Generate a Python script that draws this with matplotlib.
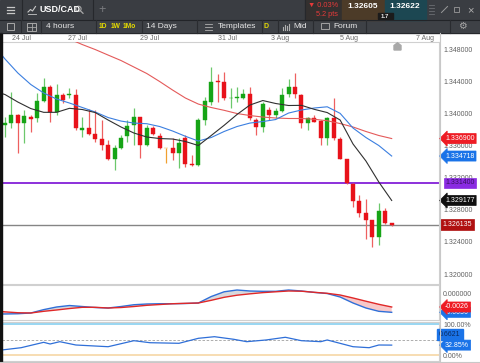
import numpy as np
import matplotlib
matplotlib.use("Agg")
import matplotlib.pyplot as plt
import matplotlib.transforms as mtransforms
from matplotlib.patches import Rectangle, Polygon, Circle

plt.rcParams['font.family'] = ['Liberation Sans', 'DejaVu Sans']

# USD/CAD 4 hour candles
opens = [1.33855, 1.33880, 1.33983, 1.33880, 1.33962, 1.33942, 1.34162, 1.34336, 1.34024, 1.34233,
         1.34239, 1.34233, 1.33796, 1.33817, 1.33746, 1.33680, 1.33609, 1.33431, 1.33568, 1.33721,
         1.33855, 1.33955, 1.33609, 1.33817, 1.33725, 1.33568, 1.33568, 1.33513, 1.33693, 1.33378,
         1.33360, 1.33921, 1.34149, 1.34407, 1.34398, 1.34195, 1.34195, 1.34199, 1.34245, 1.33921,
         1.33837, 1.34046, 1.33983, 1.34033, 1.34241, 1.34336, 1.34233, 1.33880, 1.33952, 1.33908,
         1.33693, 1.33952, 1.33690, 1.33435, 1.33123, 1.32905, 1.32765, 1.32668, 1.32462, 1.32790,
         1.32640]
highs = [1.33958, 1.34270, 1.33990, 1.34046, 1.33983, 1.34254, 1.34445, 1.34357, 1.34370, 1.34258,
         1.34320, 1.34304, 1.33962, 1.34058, 1.34046, 1.33921, 1.33671, 1.33609, 1.33734, 1.33921,
         1.34067, 1.33960, 1.33859, 1.33846, 1.33755, 1.33570, 1.33693, 1.33693, 1.33734, 1.33484,
         1.33946, 1.34211, 1.34586, 1.34491, 1.34516, 1.34316, 1.34336, 1.34307, 1.34336, 1.33942,
         1.34149, 1.34087, 1.34067, 1.34316, 1.34432, 1.34503, 1.34240, 1.33962, 1.33983, 1.33921,
         1.33955, 1.34201, 1.33709, 1.33440, 1.33132, 1.32986, 1.32936, 1.32670, 1.32882, 1.32820,
         1.32642]
lows = [1.33709, 1.33821, 1.33513, 1.33634, 1.33775, 1.33900, 1.34149, 1.33900, 1.33983, 1.34137,
        1.34191, 1.33796, 1.33705, 1.33734, 1.33650, 1.33547, 1.33422, 1.33297, 1.33556, 1.33650,
        1.33609, 1.33443, 1.33597, 1.33734, 1.33556, 1.33381, 1.33422, 1.33319, 1.33339, 1.33347,
        1.33347, 1.33859, 1.34108, 1.34149, 1.34170, 1.34067, 1.34149, 1.34183, 1.33921, 1.33734,
        1.33775, 1.33921, 1.33942, 1.34024, 1.34211, 1.34201, 1.33817, 1.33796, 1.33892, 1.33609,
        1.33609, 1.33678, 1.33430, 1.33123, 1.32840, 1.32715, 1.32437, 1.32333, 1.32362, 1.32624,
        1.32605]
closes = [1.33880, 1.33983, 1.33887, 1.33971, 1.33930, 1.34158, 1.34329, 1.34024, 1.34233, 1.34170,
          1.34245, 1.33817, 1.33817, 1.33746, 1.33684, 1.33609, 1.33431, 1.33568, 1.33693, 1.33850,
          1.33955, 1.33609, 1.33825, 1.33746, 1.33568, 1.33568, 1.33513, 1.33630, 1.33372, 1.33360,
          1.33927, 1.34158, 1.34391, 1.34391, 1.34191, 1.34201, 1.34204, 1.34245, 1.33942, 1.33837,
          1.34117, 1.33989, 1.34033, 1.34239, 1.34336, 1.34241, 1.33880, 1.33952, 1.33902, 1.33693,
          1.33952, 1.33696, 1.33435, 1.33132, 1.32915, 1.32765, 1.32674, 1.32458, 1.32790, 1.32640,
          1.326135]

# moving averages, sampled at these candle positions
ma_idx = [-0.5] + list(range(0, 61, 2))
ma_black = [1.34251, 1.34239, 1.34145, 1.34064, 1.34017, 1.34017, 1.34067, 1.34052, 1.34014, 1.33921,
            1.33834, 1.33759, 1.33709, 1.33690, 1.33684, 1.33653, 1.33603, 1.33728, 1.33855, 1.33990,
            1.34108, 1.34164, 1.34127, 1.34102, 1.34104, 1.34054, 1.34014, 1.33921, 1.33622, 1.33410,
            1.33148, 1.329177]
ma_blue = [1.34731, 1.34682, 1.34507, 1.34364, 1.34258, 1.34183, 1.34133, 1.34077, 1.34021, 1.33952,
           1.33908, 1.33883, 1.33875, 1.33840, 1.33784, 1.33718, 1.33659, 1.33703, 1.33778, 1.33840,
           1.33883, 1.33902, 1.33927, 1.34008, 1.34046, 1.34071, 1.34086, 1.34004, 1.33821, 1.33703,
           1.33603, 1.334718]
ma_red_idx = list(range(10, 61, 2))
ma_red = [1.34931, 1.34862, 1.34800, 1.34731, 1.34663, 1.34582, 1.34501, 1.34401, 1.34295, 1.34195,
          1.34120, 1.34077, 1.34042, 1.34002, 1.33977, 1.33958, 1.33946, 1.33940, 1.33940, 1.33930,
          1.33912, 1.33877, 1.33834, 1.33778, 1.33728, 1.33690]

# MACD panel (same sample positions as the moving averages)
macd_line = [-0.00393, -0.00393, -0.00388, -0.00374, -0.00310, -0.00260, -0.00232, -0.00251, -0.00270, -0.00279,
             -0.00251, -0.00217, -0.00203, -0.00198, -0.00198, -0.00194, -0.00184, -0.00061, 0.00029, 0.00063,
             0.00044, 0.00038, 0.00038, 0.00063, 0.00044, 0.00017, -0.00004, -0.00070, -0.00184, -0.00279,
             -0.00342, -0.00361]
macd_signal = [-0.00346, -0.00352, -0.00369, -0.00374, -0.00342, -0.00317, -0.00289, -0.00266, -0.00266, -0.00279,
               -0.00270, -0.00251, -0.00228, -0.00213, -0.00198, -0.00190, -0.00184, -0.00133, -0.00076, -0.00036,
               -0.00010, 0.00013, 0.00029, 0.00044, 0.00040, 0.00019, 0.00000, -0.00032, -0.00089, -0.00150,
               -0.00209, -0.00260]

# oscillator panel (%)
osc_idx = [-0.5, 2.5, 6, 7, 8.5, 11, 16, 20, 22.5, 27, 30, 32.5, 35.5, 37.5, 40.5, 43.5, 46, 49, 50,
           54, 56.5, 58, 60]
osc_vals = [17.1, 24.5, 41.9, 36.5, 43.9, 33.2, 27.7, 47.1, 40.6, 38.7, 54.8, 60.0, 51.6, 43.9, 49.4,
            58.1, 47.1, 43.9, 49.4, 27.7, 24.5, 33.2, 32.85]

date_pos = [2.5, 11.2, 22.5, 34.6, 42.7, 53.4, 65.2]
date_labels = ['24 Jul', '27 Jul', '29 Jul', '31 Jul', '3 Aug', '5 Aug', '7 Aug']
price_ticks = [1.320, 1.324, 1.328, 1.332, 1.336, 1.340, 1.344, 1.348]
level_line = 1.3314
last_price = 1.326135

W, H = 480, 363
fig = plt.figure(figsize=(W / 100, H / 100), dpi=100)
fig.patch.set_facecolor('white')


def box(x0, y0, x1, y1):
    return [x0 / W, 1 - y1 / H, (x1 - x0) / W, (y1 - y0) / H]


def style_panel(a):
    for s in ['top', 'bottom', 'right']:
        a.spines[s].set_color('#d0d0d0')
        a.spines[s].set_linewidth(0.8)
    a.spines['left'].set_visible(False)
    a.yaxis.tick_right()
    a.tick_params(axis='y', length=0, pad=3, labelsize=5, labelcolor='#606060')
    a.set_xlim(-0.465, 67.34)


def flag(a, y, text, fc, tc='white', style='larrow,pad=0.22', x=1.014):
    tr = mtransforms.blended_transform_factory(a.transAxes, a.transData)
    a.text(x, y, text, transform=tr, fontsize=5, color=tc, va='center', ha='left',
           clip_on=False, zorder=20,
           bbox=dict(boxstyle=style, fc=fc, ec=fc, lw=0.5))


# ---------- price panel ----------
ax = fig.add_axes(box(2, 42, 439, 284))
style_panel(ax)
o, hi, lo, c = map(np.array, (opens, highs, lows, closes))
xi = np.arange(len(o))
body_col = np.where(c > o, '#16a416', np.where(c < o, '#e8121a', '#f0a030'))
wick_col = np.where(c > o, '#6cc86c', np.where(c < o, '#ee6060', '#f0a030'))
ax.vlines(xi, lo, hi, colors=wick_col, lw=0.9, zorder=2)
ax.bar(xi, np.maximum(np.abs(c - o), 0.00003), bottom=np.minimum(o, c), width=0.62,
       color=body_col, edgecolor=body_col, lw=0.3, zorder=3)

ax.plot(ma_red_idx, ma_red, color='#e45a5a', lw=0.8, zorder=4)
ax.plot(ma_idx, ma_blue, color='#3b7fe0', lw=0.8, zorder=4)
ax.plot(ma_idx, ma_black, color='#303030', lw=0.8, zorder=4)
ax.axhline(level_line, color='#8420d8', lw=1.3, zorder=1)
ax.axhline(last_price, color='#858585', lw=1.0, zorder=1)

ax.set_ylim(1.31876, 1.34894)
ax.set_yticks(price_ticks)
ax.set_yticklabels([f'{v:.6f}' for v in price_ticks])
ax.xaxis.tick_top()
ax.set_xticks(date_pos)
ax.set_xticklabels(date_labels)
ax.tick_params(axis='x', length=0, pad=0.2, labelsize=5, labelcolor='#6a6a6a')

flag(ax, ma_red[-1], f'{ma_red[-1]:.6f}', '#ee1c24')
flag(ax, ma_blue[-1], f'{ma_blue[-1]:.6f}', '#1a73e8')
flag(ax, level_line, f'{level_line:.6f}', '#8a2be2', tc='#3a1060', style='square,pad=0.22')
flag(ax, ma_black[-1], f'{ma_black[-1]:.6f}', '#101010')
flag(ax, last_price, f'{last_price:.6f}', '#b01010', style='square,pad=0.3', x=1.008)

# ---------- MACD panel ----------
ax2 = fig.add_axes(box(2, 285, 439, 320))
style_panel(ax2)
m = np.array(macd_line)
s = np.array(macd_signal)
ax2.fill_between(ma_idx, m, s, where=m < s, interpolate=True, color='#f8c8c8', lw=0)
ax2.fill_between(ma_idx, m, s, where=m >= s, interpolate=True, color='#d8d8dc', lw=0)
ax2.plot(ma_idx, m, color='#2f6fd8', lw=1.0)
ax2.plot(ma_idx, s, color='#e02828', lw=1.0)
ax2.set_ylim(-0.00507, 0.00158)
ax2.set_yticks([0.0])
ax2.set_yticklabels(['0.000000'])
ax2.set_xticks([])
flag(ax2, macd_line[-1], f'{macd_line[-1]:.4f}', '#1a73e8')
flag(ax2, macd_signal[-1], f'{macd_signal[-1]:.4f}', '#ee1c24')

# ---------- oscillator panel ----------
ax3 = fig.add_axes(box(2, 322, 439, 361))
style_panel(ax3)
ax3.axhline(100, color='#86d0f0', lw=1.2)
ax3.axhline(0, color='#f6d7a6', lw=1.2)
ax3.axhline(50, color='#a0a0a0', lw=0.6, ls=(0, (3, 2)))
ax3.plot(osc_idx, osc_vals, color='#2f6fd8', lw=0.9)
ax3.set_ylim(-18.4, 107.4)
ax3.set_yticks([0, 100])
ax3.set_yticklabels(['0.00%', '100.00%'])
ax3.set_xticks([])
ax3.text(1.0, 0.68, '0.6621', transform=ax3.transAxes, fontsize=5, color='#0a2a60',
         va='center', ha='left', clip_on=False, zorder=20,
         bbox=dict(boxstyle='square,pad=0.35', fc='#1a73e8', ec='#1a73e8'))
flag(ax3, osc_vals[-1], f'{osc_vals[-1]:.2f}%', '#1a73e8')

# ---------- toolbar / frame (pixel coordinates) ----------
ui = fig.add_axes([0, 0, 1, 1], zorder=10)
ui.set_xlim(0, W)
ui.set_ylim(H, 0)
ui.axis('off')

ui.add_patch(Rectangle((0, 0), W, 19.5, color='#3a3d42'))
ui.add_patch(Rectangle((0, 19.5), W, 13.5, color='#3e4146'))
ui.plot([0, W], [19.5, 19.5], color='#222428', lw=0.8)
ui.plot([0, W], [33.0, 33.0], color='#222428', lw=0.6)
for xs in [21.5, 92.5, 305]:
    ui.plot([xs, xs], [0, 19.5], color='#26282c', lw=0.8)
for xs in [21, 41, 96, 142, 197, 262, 278, 313, 366, 450]:
    ui.plot([xs, xs], [19.5, 33.0], color='#2a2c30', lw=0.8)

# hamburger
for yy in [6.5, 9.5, 12.5]:
    ui.plot([6.5, 14], [yy, yy], color='#c8c8c8', lw=0.9)
# line chart icon + symbol
ui.plot([28, 30.5, 32.5, 35.5], [12, 9.5, 11, 6.5], color='#c8c8c8', lw=0.8)
ui.plot([27.5, 36], [13.8, 13.8], color='#c8c8c8', lw=0.6)
ui.text(39.5, 10, 'USD/CAD', color='white', fontsize=6.5, fontweight='bold', va='center', ha='left')
ui.add_patch(Circle((78.5, 8.8), 2.6, fill=False, ec='#a8a8a8', lw=0.8))
ui.plot([80.4, 83], [10.7, 13.3], color='#a8a8a8', lw=0.9)
ui.text(102, 10, '+', color='#7a7c80', fontsize=9, va='center', ha='center')

# quote area
ui.add_patch(Rectangle((305, 0), 37, 19.5, color='#33302f'))
ui.text(338, 5.8, '▼ 0.03%', color='#e53a3a', fontsize=5.3, va='center', ha='right')
ui.text(338, 14.5, '5.2 pts', color='#e53a3a', fontsize=5.3, va='center', ha='right')
ui.add_patch(Rectangle((342, 0), 42.5, 19.5, color='#4c3b28'))
ui.add_patch(Rectangle((384.5, 0), 41, 19.5, color='#1c4752'))
ui.text(363, 7, '1.32605', color='white', fontsize=6, fontweight='bold', va='center', ha='center')
ui.text(405, 7, '1.32622', color='white', fontsize=6, fontweight='bold', va='center', ha='center')
ui.add_patch(Rectangle((377.5, 13.2), 15, 6.3, color='#1b1b1b'))
ui.text(385, 16.4, '1.7', color='#e8e8e8', fontsize=4.3, fontweight='bold', va='center', ha='center')
# window icons
for yy in [5, 8, 11, 14]:
    ui.plot([429, 434], [yy, yy], color='#6a6d72', lw=0.6)
ui.plot([441.5, 447.5], [12.5, 6.5], color='#9a9a9a', lw=0.7)
ui.add_patch(Rectangle((453.5, 6.5), 5.5, 5.5, fill=False, ec='#9a9a9a', lw=0.6))
ui.text(470, 9.8, '×', color='#b0b0b0', fontsize=8, va='center', ha='center')

# second row
ui.add_patch(Rectangle((7, 22.5), 6.5, 7.5, fill=False, ec='#a8a8a8', lw=0.7))
ui.add_patch(Rectangle((27, 22.5), 9, 8, fill=False, ec='#a8a8a8', lw=0.7))
ui.plot([31.5, 31.5], [22.5, 30.5], color='#a8a8a8', lw=0.6)
ui.plot([27, 36], [26.5, 26.5], color='#a8a8a8', lw=0.6)
ui.text(46, 26.3, '4 hours', color='#e6e6e6', fontsize=6, va='center', ha='left')
ui.text(103, 26.3, '1D', color='#e6dc00', fontsize=4.8, fontweight='bold', va='center', ha='center')
ui.text(116, 26.3, '1W', color='#e6dc00', fontsize=4.8, fontweight='bold', va='center', ha='center')
ui.text(129.5, 26.3, '1Mo', color='#e6dc00', fontsize=4.8, fontweight='bold', va='center', ha='center')
ui.text(146, 26.3, '14 Days', color='#e6e6e6', fontsize=6, va='center', ha='left')
for yy in [23.5, 26.5, 29.5]:
    ui.plot([205, 212], [yy, yy], color='#b0b0b0', lw=0.6)
ui.text(218, 26.3, 'Templates', color='#e6e6e6', fontsize=6, va='center', ha='left')
ui.text(266, 26.3, 'D', color='#e6dc00', fontsize=5, fontweight='bold', va='center', ha='center')
for xx, hh in [(283, 3), (285, 5), (287, 4), (289, 6)]:
    ui.plot([xx, xx], [30, 30 - hh], color='#b0b0b0', lw=0.8)
ui.text(293, 26.3, 'Mid', color='#e6e6e6', fontsize=6, va='center', ha='left')
ui.add_patch(Rectangle((321, 23), 8, 5.5, fill=False, ec='#b0b0b0', lw=0.6))
ui.text(333, 26.3, 'Forum', color='#e6e6e6', fontsize=6, va='center', ha='left')
ui.text(462, 26.3, '⚙', color='#a8a8a8', fontsize=7, va='center', ha='center')

# chart frame details
ui.add_patch(Rectangle((0, 33.3), 1.8, H - 33.3, color='#111111'))
ui.plot([439.5, 439.5], [33.3, H], color='#c8c8c8', lw=0.8)
ui.plot([0, W], [361.8, 361.8], color='#c8c8c8', lw=0.8)
ui.add_patch(Polygon([(394, 50), (394, 45.5), (397.5, 42.8), (401, 45.5), (401, 50)],
                     closed=True, color='#a8a8a8'))

fig.savefig('out.png', dpi=100)
